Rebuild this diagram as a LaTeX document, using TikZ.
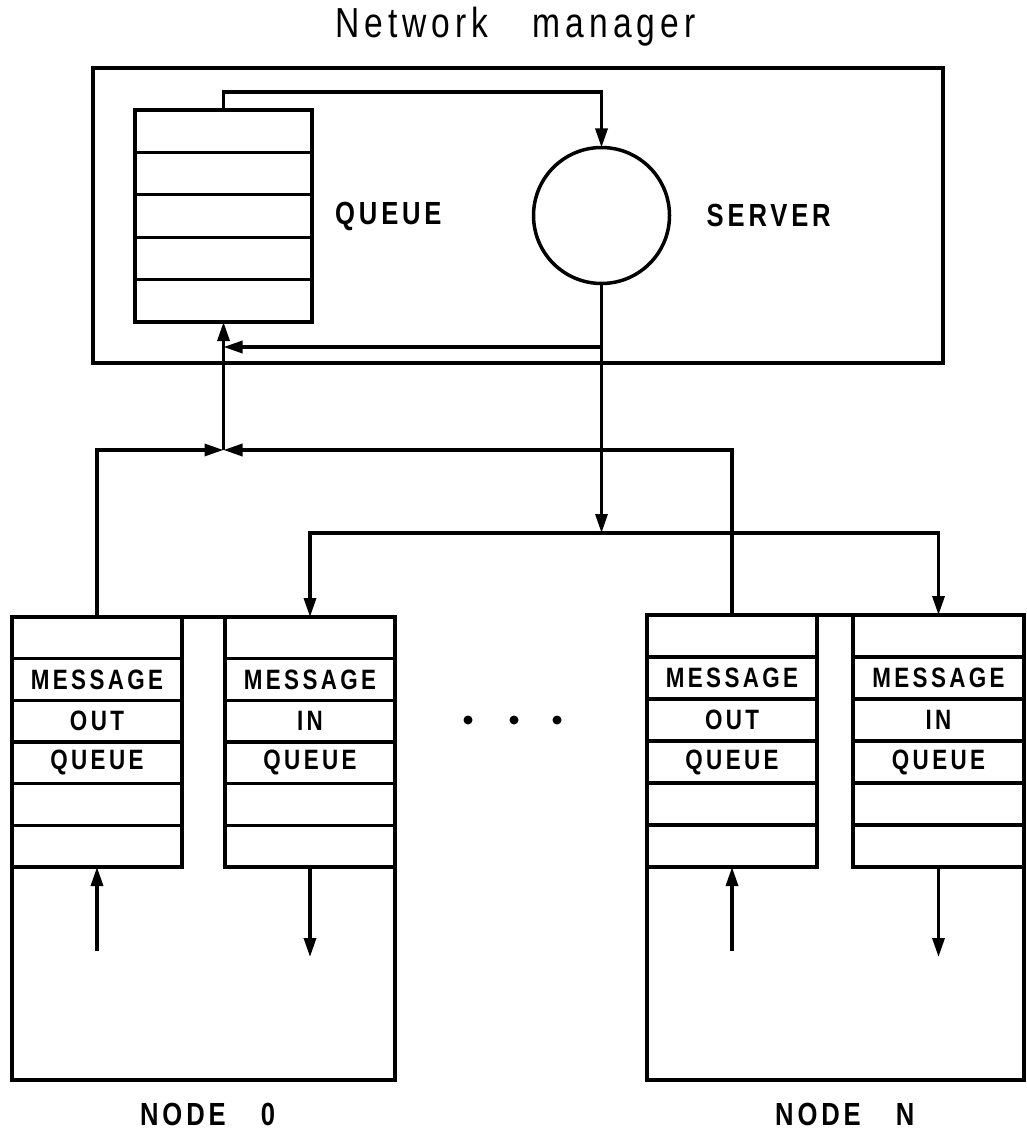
\documentclass[tikz,border=0pt]{standalone}
\usepackage{fontspec}
\setmainfont{Liberation Sans}[FakeStretch=0.8,LetterSpace=12]
\usetikzlibrary{arrows.meta,positioning,calc}

\tikzset{
  box/.style={draw, line width=3.5pt, inner sep=0pt, outer sep=0pt},
  wire/.style={line width=3.3pt},
  arr/.style={line width=3.3pt, -{Triangle[length=19pt,width=12pt]}},
  lbl/.style={inner sep=0pt, font=\fontsize{28}{30}\selectfont\bfseries},
  big/.style={inner sep=0pt, font=\fontsize{32}{34}\selectfont\bfseries},
}

\begin{document}
\begin{tikzpicture}[x=1pt,y=-1pt]
    \useasboundingbox (0,0) rectangle (1027,1134);

    % Network manager
    \node[anchor=base west, inner sep=0pt, font=\fontsize{42}{44}\selectfont] (title) at (335,38) {Network\hspace{1.05em}manager};
    \node[box, minimum width=850pt, minimum height=295pt] (mgr) at (518,215.5) {};

    % Queue and server
    \node[box, minimum width=177pt, minimum height=212pt] (q) at (223.5,216) {};
    \foreach \i in {1,...,4}
        \draw[wire] ($(q.north west)!{\i/5}!(q.south west)$) -- ($(q.north east)!{\i/5}!(q.south east)$);
    \node[big, right=23pt of q] (qlbl) {QUEUE};

    \node[box, circle, minimum size=136pt] (srv) at (601.5,215.5) {};
    \node[big, right=37pt of srv] (slbl) {SERVER};

    % Nodes 0 and N
    \node[box, minimum width=383pt, minimum height=463pt] (n0) at (203.5,848.5) {};
    \node[box, anchor=north west, minimum width=170pt, minimum height=250pt] (out0) at (n0.north west) {};
    \node[box, anchor=north east, minimum width=170pt, minimum height=250pt] (in0) at (n0.north east) {};
    \node[anchor=base west, big] (n0lbl) at (140,1125) {NODE\hspace{1.1em}0};

    \node[box, minimum width=377pt, minimum height=465pt] (nN) at (835.5,847.5) {};
    \node[box, anchor=north west, minimum width=170pt, minimum height=252pt] (outN) at (nN.north west) {};
    \node[box, anchor=north east, minimum width=171pt, minimum height=252pt] (inN) at (nN.north east) {};
    \node[anchor=base west, big] (nNlbl) at (775,1125) {NODE\hspace{1.1em}N};

    \foreach \s/\w in {out0/OUT, in0/IN, outN/OUT, inN/IN} {
        \foreach \i in {1,...,5}
            \draw[wire] ($(\s.north west)!{\i/6}!(\s.south west)$) -- ($(\s.north east)!{\i/6}!(\s.south east)$);
        \node[lbl] (\s-a) at ($(\s.north)!{1.5/6}!(\s.south)$) {MESSAGE};
        \node[lbl] (\s-b) at ($(\s.north)!{2.5/6}!(\s.south)$) {\w};
        \node[lbl] (\s-c) at ($(\s.north)!{3.5/6}!(\s.south)$) {QUEUE};
    }

    % dots
    \foreach \x in {468,514,557}
        \fill (\x,720) circle (4.5pt);

    % Connections
    \coordinate (ret) at (0,347);
    \coordinate (bus1) at (0,450);
    \coordinate (bus2) at (0,533);

    \draw[arr] (q.north) -- ++(0,-18) -| (srv.north);
    \draw[arr] (srv.south) -- (srv.south |- bus2);
    \draw[arr] (srv.south |- ret) -- (q.south |- ret);
    \draw[arr] (q.south |- bus1) -- (q.south);
    \draw[arr] (out0.north) |- (q.south |- bus1);
    \draw[arr] (outN.north) |- (q.south |- bus1);
    \draw[arr] (srv.south |- bus2) -| (in0.north);
    \draw[arr] (srv.south |- bus2) -| (inN.north);

    % local traffic
    \coordinate (src0) at ($(out0.south)+(0,84)$);
    \coordinate (dst0) at ($(in0.south)+(0,90)$);
    \coordinate (srcN) at ($(outN.south)+(0,84)$);
    \coordinate (dstN) at ($(inN.south)+(0,90)$);
    \draw[arr] (src0) -- (out0.south);
    \draw[arr] (in0.south) -- (dst0);
    \draw[arr] (srcN) -- (outN.south);
    \draw[arr] (inN.south) -- (dstN);
\end{tikzpicture}
\end{document}
